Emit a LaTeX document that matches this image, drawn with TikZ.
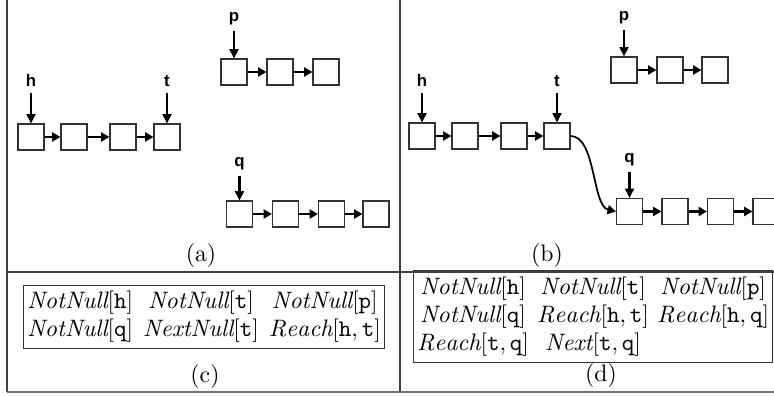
\documentclass[tikz,border=0pt]{standalone}
\usepackage{fontspec}
\newfontfamily\lblfont{Liberation Sans}
\usetikzlibrary{arrows.meta}
\begin{document}
\begin{tikzpicture}[x=0.4286pt,y=-0.4286pt,
  cell/.style={draw=black!80,line width=0.5pt,minimum size=11.1pt,inner sep=0pt},
  ptr/.style={line width=0.9pt,-{Triangle[length=4pt,width=3.8pt]}},
  link/.style={line width=0.9pt,-{Triangle[length=3.6pt,width=3.9pt]}},
  joinlink/.style={line width=0.75pt,-{Triangle[length=3.6pt,width=3.9pt]}},
  var/.style={font=\lblfont\bfseries\fontsize{7.2}{8}\selectfont,inner sep=0pt,anchor=base},
  gridline/.style={draw=black!75,line width=0.6pt},
  facts/.style={draw=black!80,line width=0.5pt,inner sep=1.6pt,font=\fontsize{10.2}{12}\selectfont},
  sublabel/.style={font=\fontsize{10.2}{12}\selectfont,inner sep=0pt}
]
\clip (0,0) rectangle (774,396);

% table rules
\draw[gridline] (7,0) -- (7,392);
\draw[gridline] (400,0) -- (400,392);
\draw[gridline] (7,272) -- (774,272);
\draw[draw=black!55,line width=0.9pt] (7,392) -- (774,392);

% ---------- (a) ----------
\node[cell] (a1) at (31,137) {};
\node[cell] (a2) at (74,137) {};
\node[cell] (a3) at (123,137) {};
\node[cell] (a4) at (167,137) {};
\node[cell] (ap1) at (234,72) {};
\node[cell] (ap2) at (280,72) {};
\node[cell] (ap3) at (326,72) {};
\node[cell] (aq1) at (239.5,214) {};
\node[cell] (aq2) at (285.5,214) {};
\node[cell] (aq3) at (331.5,214) {};
\node[cell] (aq4) at (376,214) {};
\draw[link] (a1) -- (a2);
\draw[link] (a2) -- (a3);
\draw[link] (a3) -- (a4);
\draw[link] (ap1) -- (ap2);
\draw[link] (ap2) -- (ap3);
\draw[link] (aq1) -- (aq2);
\draw[link] (aq2) -- (aq3);
\draw[link] (aq3) -- (aq4);
\node[var] (ah) at (31,87) {h};
\node[var] (at) at (167,87) {t};
\node[var] (ap) at (234,22) {p};
\node[var] (aq) at (239.5,167) {q};
\draw[ptr,shorten <=2.2pt] (ah.south -| a1.north) -- (a1.north);
\draw[ptr,shorten <=2.2pt] (at.south -| a4.north) -- (a4.north);
\draw[ptr,shorten <=2pt] (ap.south -| ap1.north) -- (ap1.north);
\draw[ptr,shorten <=2pt] (aq.south -| aq1.north) -- (aq1.north);
\node[sublabel] (la) at (201,256) {(a)};

% ---------- (b) ----------
\node[cell] (b1) at (422,136) {};
\node[cell] (b2) at (465,136) {};
\node[cell] (b3) at (514,136) {};
\node[cell] (b4) at (557,136) {};
\node[cell] (bp1) at (624,70) {};
\node[cell] (bp2) at (670,70) {};
\node[cell] (bp3) at (715,70) {};
\node[cell] (bq1) at (629.5,211.5) {};
\node[cell] (bq2) at (675,211.5) {};
\node[cell] (bq3) at (720.5,211.5) {};
\node[cell] (bq4) at (766,211.5) {};
\draw[link] (b1) -- (b2);
\draw[link] (b2) -- (b3);
\draw[link] (b3) -- (b4);
\draw[link] (bp1) -- (bp2);
\draw[link] (bp2) -- (bp3);
\draw[link] (bq1) -- (bq2);
\draw[link] (bq2) -- (bq3);
\draw[link] (bq3) -- (bq4);
\draw[joinlink] (b4.east) .. controls (596,136) and (592,206) .. (bq1.west);
\node[var] (bh) at (422,87) {h};
\node[var] (bt) at (557,87) {t};
\node[var] (bp) at (624,21) {p};
\node[var] (bq) at (629.5,163) {q};
\draw[ptr,shorten <=2.2pt] (bh.south -| b1.north) -- (b1.north);
\draw[ptr,shorten <=2.2pt] (bt.south -| b4.north) -- (b4.north);
\draw[ptr,shorten <=2pt] (bp.south -| bp1.north) -- (bp1.north);
\draw[ptr,shorten <=2pt] (bq.south -| bq1.north) -- (bq1.north);
\node[sublabel] (lb) at (547,256) {(b)};

% ---------- (c) ----------
\node[facts] (fc) at (204,317) {%
  \begin{tabular}{@{}c@{\hspace{4.3pt}}c@{\hspace{4.3pt}}c@{}}
  $\mathit{NotNull}[\mathtt{h}]$ & $\mathit{NotNull}[\mathtt{t}]$ & $\mathit{NotNull}[\mathtt{p}]$\\
  $\mathit{NotNull}[\mathtt{q}]$ & $\mathit{NextNull}[\mathtt{t}]$ & $\mathit{Reach}[\mathtt{h},\mathtt{t}]$
  \end{tabular}};
\node[sublabel] (lc) at (205,377) {(c)};

% ---------- (d) ----------
\node[facts] (fd) at (593,316.5) {%
  \begin{tabular}{@{}c@{\hspace{3.5pt}}c@{\hspace{3.5pt}}c@{}}
  $\mathit{NotNull}[\mathtt{h}]$ & $\mathit{NotNull}[\mathtt{t}]$ & $\mathit{NotNull}[\mathtt{p}]$\\
  $\mathit{NotNull}[\mathtt{q}]$ & $\mathit{Reach}[\mathtt{h},\mathtt{t}]$ & $\mathit{Reach}[\mathtt{h},\mathtt{q}]$\\
  $\mathit{Reach}[\mathtt{t},\mathtt{q}]$ & $\mathit{Next}[\mathtt{t},\mathtt{q}]$ &
  \end{tabular}};
\node[sublabel] (ld) at (601,376) {(d)};
\end{tikzpicture}
\end{document}
